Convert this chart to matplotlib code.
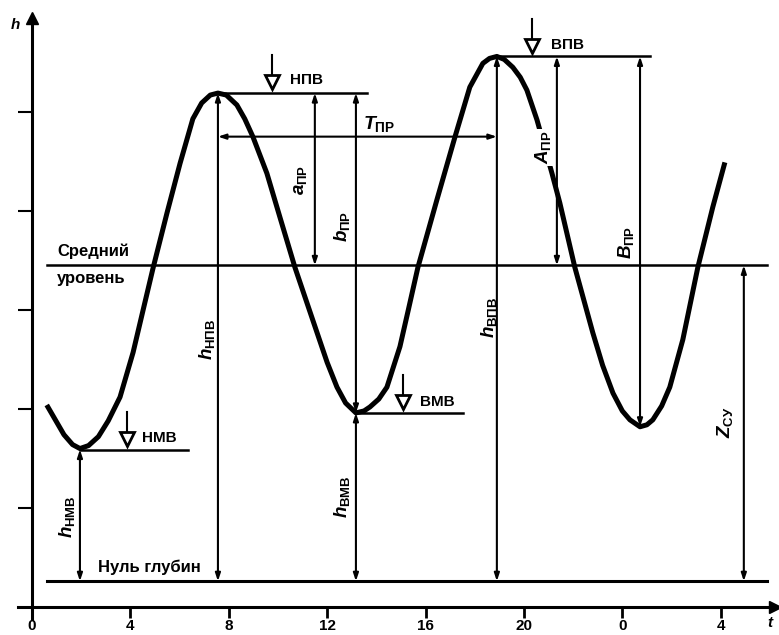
import matplotlib
matplotlib.use('Agg')
import matplotlib.pyplot as plt

plt.rcParams['font.family'] = ['Liberation Sans', 'DejaVu Sans']
plt.rcParams['font.weight'] = 'bold'
plt.rcParams['mathtext.fontset'] = 'custom'
plt.rcParams['mathtext.rm'] = 'Liberation Sans:bold'
plt.rcParams['mathtext.it'] = 'Liberation Sans:italic:bold'

# tide curve (hours, height)
t_curve = [0.60, 0.95, 1.30, 1.65, 1.95,
           2.30, 2.70, 3.10, 3.58, 4.11, 4.50, 4.92, 5.49, 6.02, 6.54, 6.90, 7.25, 7.56,
           7.90, 8.33, 8.65, 8.98, 9.55, 10.10, 10.69, 11.59, 12.00, 12.40, 12.75, 13.17,
           13.50, 13.74, 14.10, 14.43, 14.96, 15.30, 15.69, 16.46, 17.20, 17.80, 18.33,
           18.60, 18.90,
           19.20, 19.55, 19.85, 20.12, 20.53, 21.14, 21.46, 22.07, 22.80, 23.20, 23.62,
           24.00, 24.31, 24.72,
           25.00, 25.24, 25.60, 25.93, 26.46, 27.07, 27.68, 28.17]
h_curve = [2.04, 1.89, 1.74, 1.64, 1.60,
           1.63, 1.72, 1.88, 2.12, 2.57, 2.98, 3.42, 3.98, 4.48, 4.93, 5.09, 5.17, 5.19,
           5.17, 5.07, 4.93, 4.75, 4.38, 3.92, 3.43, 2.77, 2.47, 2.22, 2.06, 1.96,
           1.98, 2.02, 2.10, 2.22, 2.63, 3.00, 3.43, 4.11, 4.75, 5.25, 5.49,
           5.54, 5.56,
           5.53, 5.45, 5.35, 5.22, 4.92, 4.38, 4.08, 3.43, 2.77, 2.44, 2.16,
           1.98, 1.89, 1.82,
           1.84, 1.89, 2.03, 2.22, 2.70, 3.43, 4.04, 4.49]

mean_level = 3.45
zero_level = 0.26
ref_span = [0.61, 29.9]

x_ticks = [0, 4, 8, 12, 16, 20, 24, 28]
x_labels = ['0', '4', '8', '12', '16', '20', '0', '4']
y_ticks = [1, 2, 3, 4, 5]

# high / low waters
lvl_names = ['НМВ', 'НПВ', 'ВМВ', 'ВПВ']
lvl_t0 = [1.95, 7.56, 13.17, 18.90]
lvl_t1 = [6.34, 13.64, 17.52, 25.12]
lvl_h = [1.59, 5.19, 1.96, 5.56]
lvl_mark_t = [3.86, 9.76, 15.08, 20.33]
lvl_txt_t = [4.47, 10.49, 15.77, 21.10]
lvl_txt_h = [1.71, 5.32, 2.07, 5.68]

# dimension lines
dim_t = [1.95, 7.56, 11.50, 13.17, 13.17, 18.90, 21.34, 24.72, 28.94]
dim_lo = [0.26, 0.26, 3.45, 1.96, 0.26, 0.26, 3.45, 1.82, 0.26]
dim_hi = [1.59, 5.19, 5.19, 5.19, 1.96, 5.56, 5.56, 5.56, 3.45]
dim_labels = [r'$h_{\mathrm{НМВ}}$', r'$h_{\mathrm{НПВ}}$', r'$a_{\mathrm{ПР}}$',
              r'$b_{\mathrm{ПР}}$', r'$h_{\mathrm{ВМВ}}$', r'$h_{\mathrm{ВПВ}}$',
              r'$A_{\mathrm{ПР}}$', r'$B_{\mathrm{ПР}}$', r'$Z_{\mathrm{СУ}}$']
dim_lab_t = [1.42, 7.11, 10.93, 12.60, 12.60, 18.58, 20.77, 24.15, 28.17]
dim_lab_h = [0.91, 2.70, 4.31, 3.84, 1.11, 2.92, 4.64, 3.68, 1.87]

period_h = 4.75

fig = plt.figure(figsize=(7.79, 6.35), dpi=100)
ax = fig.add_axes([0, 0, 1, 1])
ax.set_xlim(-1.30, 30.37)
ax.set_ylim(-0.283, 6.13)

# axes
for s in ['top', 'right']:
    ax.spines[s].set_visible(False)
ax.spines['left'].set_position(('data', 0))
ax.spines['bottom'].set_position(('data', 0))
ax.spines['left'].set_bounds(-0.12, 5.95)
ax.spines['bottom'].set_bounds(-0.55, 30.2)
ax.spines['left'].set_linewidth(2.2)
ax.spines['bottom'].set_linewidth(2.2)
ax.plot([30.2], [0], marker='>', ms=9, color='black', clip_on=False)
ax.plot([0], [5.95], marker='^', ms=8, color='black', clip_on=False)
ax.set_xticks(x_ticks)
ax.set_xticklabels(x_labels)
ax.set_yticks(y_ticks)
ax.set_yticklabels([])
ax.tick_params(axis='x', direction='out', length=8, width=2, pad=1, labelsize=11)
ax.tick_params(axis='y', direction='out', length=10, width=1.5)
ax.text(-0.69, 5.88, 'h', fontsize=11, style='italic', ha='center', va='center')
ax.text(30.0, -0.16, 't', fontsize=11, style='italic', ha='center', va='center')

# reference levels
ax.plot(ref_span, [mean_level, mean_level], color='black', lw=1.8)
ax.plot(ref_span, [zero_level, zero_level], color='black', lw=2.2)
ax.text(1.02, 3.59, 'Средний', fontsize=12, ha='left', va='center')
ax.text(1.02, 3.32, 'уровень', fontsize=12, ha='left', va='center')
ax.text(2.68, 0.40, 'Нуль глубин', fontsize=12, ha='left', va='center')

# tide curve
ax.plot(t_curve, h_curve, color='black', lw=3.6, solid_joinstyle='round',
        solid_capstyle='butt', zorder=3)

# level lines and symbols
for name, t0, t1, h, mt, tt, th in zip(lvl_names, lvl_t0, lvl_t1, lvl_h,
                                       lvl_mark_t, lvl_txt_t, lvl_txt_h):
    ax.plot([t0, t1], [h, h], color='black', lw=1.8)
    ax.plot([mt, mt], [h + 0.06, h + 0.38], color='black', lw=1.5)
    ax.plot([mt], [h + 0.11], marker='v', ms=10, mfc='white', mec='black', mew=2)
    ax.text(tt, th, name, fontsize=11, ha='left', va='center')

# dimension lines
arrow = dict(arrowstyle='<|-|>,head_length=0.45,head_width=0.15', color='black',
             lw=1.5, shrinkA=0, shrinkB=0)
for t, lo, hi in zip(dim_t, dim_lo, dim_hi):
    ax.annotate('', xy=(t, hi), xytext=(t, lo), arrowprops=arrow)
for lab, lt, lh in zip(dim_labels, dim_lab_t, dim_lab_h):
    box = None
    if lab.startswith('$A'):
        box = dict(facecolor='white', edgecolor='none', pad=1)
    ax.text(lt, lh, lab, fontsize=13.5, rotation=90, ha='center', va='center',
            bbox=box, zorder=4)

# period
ax.annotate('', xy=(18.90, period_h), xytext=(7.56, period_h), arrowprops=arrow)
ax.text(13.45, 4.88, r'$T_{\mathrm{ПР}}$', fontsize=14, ha='left', va='center')

fig.savefig('out.png', dpi=100)
